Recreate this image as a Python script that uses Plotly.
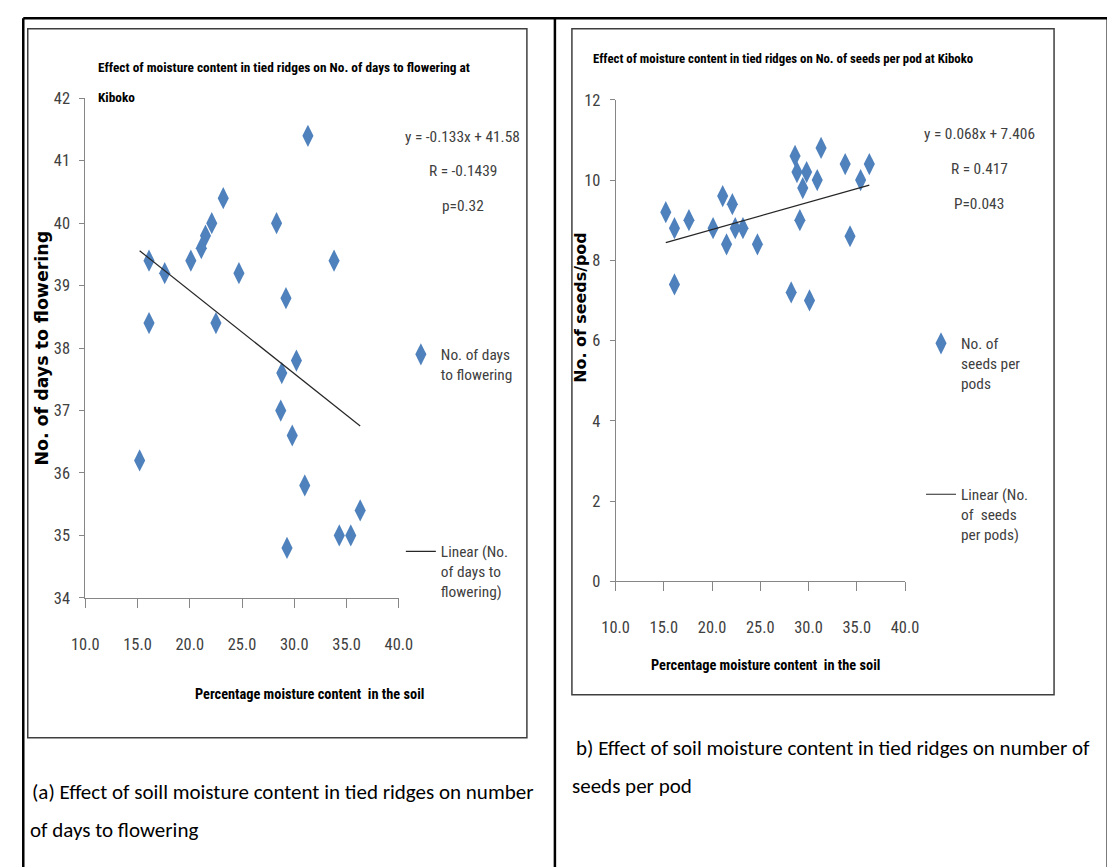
import plotly.graph_objects as go

W, H = 1115, 867

# ---------------- data ----------------
x_ticks = [10, 15, 20, 25, 30, 35, 40]

moisture_a = [31.3, 23.2, 22.1, 21.5, 21.1, 28.3, 16.1, 17.6, 20.1, 24.7, 33.8, 29.2,
              16.1, 22.5, 28.8, 30.2, 28.7, 29.8, 15.2, 31.0, 36.3, 34.3, 35.4, 29.3]
days_to_flowering = [41.4, 40.4, 40.0, 39.8, 39.6, 40.0, 39.4, 39.2, 39.4, 39.2, 39.4, 38.8,
                     38.4, 38.4, 37.6, 37.8, 37.0, 36.6, 36.2, 35.8, 35.4, 35.0, 35.0, 34.8]
slope_a, intercept_a = -0.133, 41.58

moisture_b = [15.2, 16.1, 16.1, 17.6, 20.1, 21.1, 21.5, 22.1, 22.4, 23.2, 24.7, 28.2,
              28.6, 28.8, 29.1, 29.4, 29.8, 30.1, 30.9, 31.3, 33.8, 34.3, 35.4, 36.3]
seeds_per_pod = [9.2, 8.8, 7.4, 9.0, 8.8, 9.6, 8.4, 9.4, 8.8, 8.8, 8.4, 7.2,
                 10.6, 10.2, 9.0, 9.8, 10.2, 7.0, 10.0, 10.8, 10.4, 8.6, 10.0, 10.4]
slope_b, intercept_b = 0.068, 7.406

stats_a = ["y = -0.133x + 41.58", "R = -0.1439", "p=0.32"]
stats_b = ["y = 0.068x + 7.406", "R = 0.417", "P=0.043"]

# ---------------- layout helpers ----------------
# target positions are given in screen pixels; these map them to page pixels
SX, OX = 0.9746, 22.25
SY, OY = 0.978, 17.2
K = 1.025  # font/marker size compensation


def px(s, lo=None, hi=None):
    p = (s - OX) / SX
    if lo is not None:
        p = max(lo, min(hi, p))
    return p / W


def py(s, lo=None, hi=None):
    p = (s - OY) / SY
    if lo is not None:
        p = max(lo, min(hi, p))
    return 1 - p / H


def fs(v):
    return round(v * K, 2)


NARROW = "Liberation Sans Narrow, Arial Narrow, Roboto Condensed, sans-serif"
BLUE = "#4F81BD"
AX = "#868686"
TXT = "#404040"

xa_lo, xa_hi = min(moisture_a), max(moisture_a)
xb_lo, xb_hi = min(moisture_b), max(moisture_b)

fig = go.Figure()

fig.add_trace(go.Scatter(
    x=moisture_a, y=days_to_flowering, mode="markers",
    marker=dict(symbol="diamond-tall", size=fs(15.5), color=BLUE),
    name="No. of days<br>to flowering", xaxis="x", yaxis="y",
    legend="legend", legendgroup="a1"))
fig.add_trace(go.Scatter(
    x=[xa_lo, xa_hi], y=[slope_a * xa_lo + intercept_a, slope_a * xa_hi + intercept_a],
    mode="lines", line=dict(color="#262626", width=1.2),
    name="Linear (No.<br>of days to<br>flowering)", xaxis="x", yaxis="y",
    legend="legend", legendgroup="a2"))

fig.add_trace(go.Scatter(
    x=moisture_b, y=seeds_per_pod, mode="markers",
    marker=dict(symbol="diamond-tall", size=fs(15.5), color=BLUE),
    name="No. of<br>seeds per<br>pods", xaxis="x2", yaxis="y2",
    legend="legend2", legendgroup="b1"))
fig.add_trace(go.Scatter(
    x=[xb_lo, xb_hi], y=[slope_b * xb_lo + intercept_b, slope_b * xb_hi + intercept_b],
    mode="lines", line=dict(color="#262626", width=1.2),
    name="Linear (No.<br>of  seeds<br>per pods)", xaxis="x2", yaxis="y2",
    legend="legend2", legendgroup="b2"))

common_x = dict(range=[10, 40], tickvals=x_ticks, tickformat=".1f", showline=True,
                linecolor=AX, linewidth=1, ticks="outside", ticklen=9, tickcolor=AX,
                showgrid=False, zeroline=False, ticklabelstandoff=22,
                tickfont=dict(family=NARROW, size=fs(16), color=TXT))
common_y = dict(showline=True, linecolor=AX, linewidth=1, ticks="outside", ticklen=5,
                tickcolor=AX, showgrid=False, zeroline=False, ticklabelstandoff=6,
                tickfont=dict(family=NARROW, size=fs(16), color=TXT))

fig.update_layout(
    width=W, height=H, margin=dict(l=0, r=0, t=0, b=0),
    paper_bgcolor="white", plot_bgcolor="white",
    xaxis=dict(domain=[px(85.5), px(399)], anchor="y", **common_x),
    yaxis=dict(domain=[py(598), py(98.5)], anchor="x", range=[34, 42], dtick=1, **common_y),
    xaxis2=dict(domain=[px(615.7), px(905)], anchor="y2", **common_x),
    yaxis2=dict(domain=[py(581.5), py(100)], anchor="x2", range=[0, 12], dtick=2, **common_y),
    legend=dict(x=px(401), y=py(338), xanchor="left", yanchor="top", valign="top",
                bgcolor="rgba(0,0,0,0)", tracegroupgap=154,
                font=dict(family=NARROW, size=fs(15), color=TXT)),
    legend2=dict(x=px(921), y=py(327), xanchor="left", yanchor="top", valign="top",
                 bgcolor="rgba(0,0,0,0)", tracegroupgap=88,
                 font=dict(family=NARROW, size=fs(15), color=TXT)),
    showlegend=True,
)

# frames (outer table lines are kept inside the page)
shapes = []
frame = dict(color="black", width=2.5)
lo, hx, hy = 1.3, W - 1.3, H + 5
for (x0, y0, x1, y1) in [(10, 10, 1111, 10), (10, 10, 10, 880), (555, 10, 555, 880), (1111, 10, 1111, 880)]:
    shapes.append(dict(type="line", xref="paper", yref="paper",
                       x0=px(x0, lo, hx), y0=py(y0, lo, hy),
                       x1=px(x1, lo, hx), y1=py(y1, lo, hy), line=frame))
for (x0, y0, x1, y1) in [(28, 29, 527, 738), (572, 29, 1054, 695)]:
    shapes.append(dict(type="rect", xref="paper", yref="paper", x0=px(x0), y0=py(y0),
                       x1=px(x1), y1=py(y1), line=dict(color="#3F3F3F", width=1.5)))
fig.update_layout(shapes=shapes)

ann = []


def text(t, x, y, size, family=NARROW, color=TXT, xanchor="center", bold=False, angle=0):
    ann.append(dict(text=("<b>%s</b>" % t) if bold else t, x=px(x), y=py(y), xref="paper",
                    yref="paper", xanchor=xanchor, yanchor="middle", showarrow=False,
                    textangle=angle, font=dict(family=family, size=fs(size), color=color)))


# chart titles
text("Effect of moisture content in tied ridges on No. of days to flowering at", 96, 68, 13,
     color="black", xanchor="left", bold=True)
text("Kiboko", 96, 98, 13, color="black", xanchor="left", bold=True)
text("Effect of moisture content in tied ridges on No. of seeds per pod at Kiboko", 591, 59, 12.5,
     color="black", xanchor="left", bold=True)

# regression statistics
for t, y in zip(stats_a, [137, 171, 206]):
    text(t, 463, y, 15)
for t, y in zip(stats_b, [134, 169, 204]):
    text(t, 979, y, 15)

# axis titles
text("Percentage moisture content  in the soil", 310, 695, 14, color="black", bold=True)
text("Percentage moisture content  in the soil", 766, 666, 14, color="black", bold=True)
text("No. of days to flowering", 42, 348, 17, family="DejaVu Sans", color="black", bold=True, angle=-90)
text("No. of seeds/pod", 581, 308, 15.5, family="DejaVu Sans", color="black", bold=True, angle=-90)

# captions
CAP = "Carlito, Lato, sans-serif"
text("(a) Effect of soill moisture content in tied ridges on number", 30, 792, 20.5, family=CAP,
     color="black", xanchor="left")
text("of days to flowering", 28, 830, 20.5, family=CAP, color="black", xanchor="left")
text("b) Effect of soil moisture content in tied ridges on number of", 574, 748, 20.5, family=CAP,
     color="black", xanchor="left")
text("seeds per pod", 570, 786, 20.5, family=CAP, color="black", xanchor="left")

fig.update_layout(annotations=ann)

fig.write_html("out.html")
